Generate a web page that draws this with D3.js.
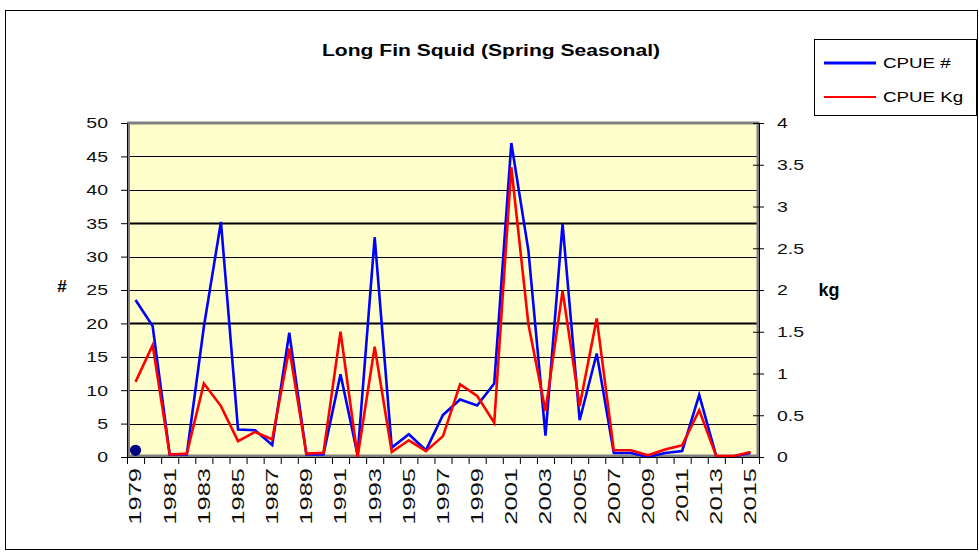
<!DOCTYPE html>
<html>
<head>
<meta charset="utf-8">
<script src="https://cdn.jsdelivr.net/npm/d3@7"></script>
<style>
  html, body { margin: 0; padding: 0; background: #fff; }
  svg { display: block; font-family: Arial, "Liberation Sans", sans-serif; }
</style>
</head>
<body>
<svg id="chart"></svg>
<script>
// data
const years = [1979, 1980, 1981, 1982, 1983, 1984, 1985, 1986, 1987, 1988,
  1989, 1990, 1991, 1992, 1993, 1994, 1995, 1996, 1997, 1998,
  1999, 2000, 2001, 2002, 2003, 2004, 2005, 2006, 2007, 2008,
  2009, 2010, 2011, 2012, 2013, 2014, 2015];

const cpueNum = [23.5, 19.6, 0.4, 0.4, 19.5, 35.2, 4.1, 4.0, 1.8, 18.6,
  0.4, 0.4, 12.4, 0.3, 32.9, 1.4, 3.4, 1.0, 6.3, 8.6,
  7.7, 11.0, 47.0, 30.9, 3.2, 34.9, 5.5, 15.5, 0.6, 0.6,
  0.0, 0.6, 0.9, 9.3, 0.1, 0.1, 0.6];

const cpueKg = [0.90, 1.34, 0.03, 0.04, 0.88, 0.61, 0.19, 0.30, 0.21, 1.30,
  0.04, 0.05, 1.50, 0.00, 1.32, 0.06, 0.20, 0.07, 0.25, 0.87,
  0.73, 0.41, 3.47, 1.59, 0.55, 1.99, 0.61, 1.66, 0.08, 0.08,
  0.02, 0.09, 0.14, 0.56, 0.01, 0.01, 0.06];

// lone marker sitting at 1979
const markerYears = [1979];
const markerValues = [1.0];

const leftTicks = [0, 5, 10, 15, 20, 25, 30, 35, 40, 45, 50];
const rightTicks = [0, 0.5, 1, 1.5, 2, 2.5, 3, 3.5, 4];
const yearLabels = years.filter((d, i) => i % 2 === 0);

const width = 979;
const height = 552;
const plot = { left: 127, right: 759, top: 123, bottom: 457 };
const stretch = 1.3; // reference text is drawn wide

const svg = d3.select("#chart").attr("width", width).attr("height", height);

// outer chart border
svg.append("rect")
  .attr("x", 5.5).attr("y", 10.5)
  .attr("width", 972).attr("height", 539)
  .attr("fill", "#fff").attr("stroke", "#000").attr("stroke-width", 1);

const x = d3.scaleBand().domain(years).range([plot.left, plot.right]).padding(0);
const xEdge = d3.scaleLinear().domain([0, years.length]).range([plot.left, plot.right]);
const yL = d3.scaleLinear().domain([0, 50]).range([plot.bottom, plot.top]);
const yR = d3.scaleLinear().domain([0, 4]).range([plot.bottom, plot.top]);
const cx = d => x(d) + x.bandwidth() / 2;

// plot area
svg.append("rect")
  .attr("x", plot.left).attr("y", plot.top)
  .attr("width", plot.right - plot.left).attr("height", plot.bottom - plot.top)
  .attr("fill", "#ffffcc");

// gridlines
svg.append("g")
  .selectAll("line")
  .data(leftTicks.filter(d => d > 0 && d < 50))
  .enter()
  .append("line")
  .attr("x1", plot.left).attr("x2", plot.right)
  .attr("y1", d => Math.round(yL(d)) + 0.5).attr("y2", d => Math.round(yL(d)) + 0.5)
  .attr("stroke", "#000")
  .attr("stroke-width", d => (d === 20 || d === 35) ? 2 : 1);

// grey plot frame
svg.append("rect")
  .attr("x", plot.left + 1.5).attr("y", plot.top)
  .attr("width", plot.right - plot.left - 2.5).attr("height", plot.bottom - plot.top - 1)
  .attr("fill", "none").attr("stroke", "#808080").attr("stroke-width", 3);

// series
const lineNum = d3.line().x((d, i) => cx(years[i])).y(d => yL(d));
const lineKg = d3.line().x((d, i) => cx(years[i])).y(d => yR(d));

svg.append("path")
  .datum(cpueNum)
  .attr("d", lineNum)
  .attr("fill", "none").attr("stroke", "#0000ff").attr("stroke-width", 2.6)
  .attr("stroke-linejoin", "miter");

svg.append("path")
  .datum(cpueKg)
  .attr("d", lineKg)
  .attr("fill", "none").attr("stroke", "#ff0000").attr("stroke-width", 2.6)
  .attr("stroke-linejoin", "miter");

svg.append("g")
  .selectAll("path")
  .data(markerValues)
  .enter()
  .append("path")
  .attr("transform", (d, i) => `translate(${cx(markerYears[i])},${yL(d)})`)
  .attr("d", d3.symbol().type(d3.symbolCircle).size(100))
  .attr("fill", "#000080");

// axes
const leftAxis = svg.append("g")
  .attr("transform", `translate(${plot.left},0)`)
  .call(d3.axisLeft(yL).tickValues(leftTicks).tickSize(6).tickSizeOuter(0));
leftAxis.select(".domain").attr("stroke", "#000");
leftAxis.selectAll("text")
  .attr("font-size", 15)
  .attr("fill", "#111")
  .attr("x", -19 / stretch)
  .attr("transform", `scale(${stretch},1)`);

const rightAxis = svg.append("g")
  .attr("transform", `translate(${plot.right},0)`)
  .call(d3.axisRight(yR).tickValues(rightTicks).tickFormat(d => String(d)).tickSize(5).tickSizeOuter(0));
rightAxis.selectAll(".tick line").attr("x1", -6);
rightAxis.selectAll("text")
  .attr("font-size", 15)
  .attr("fill", "#111")
  .attr("x", 18 / stretch)
  .attr("transform", `scale(${stretch},1)`);

const bottomTicks = svg.append("g")
  .attr("transform", `translate(0,${plot.bottom})`)
  .call(d3.axisBottom(xEdge).tickValues(d3.range(years.length + 1)).tickFormat("").tickSize(7).tickSizeOuter(0));
bottomTicks.select(".domain").attr("stroke", "#000");

const bottomLabels = svg.append("g")
  .attr("transform", `translate(0,${plot.bottom})`)
  .call(d3.axisBottom(x).tickValues(yearLabels).tickSize(0));
bottomLabels.select(".domain").remove();
bottomLabels.selectAll("text")
  .attr("font-size", 17)
  .attr("fill", "#111")
  .attr("text-anchor", "end")
  .attr("dy", "0.35em")
  .attr("y", 0)
  .attr("x", 0)
  .attr("transform", "translate(0,11) rotate(-90) scale(1.5,1)");

// titles
svg.append("text")
  .attr("x", 491).attr("y", 56)
  .attr("text-anchor", "middle")
  .attr("font-size", 17).attr("font-weight", "bold")
  .attr("transform", "translate(491,0) scale(1.24,1) translate(-491,0)")
  .text("Long Fin Squid (Spring Seasonal)");

svg.append("text")
  .attr("x", 62).attr("y", 292)
  .attr("text-anchor", "middle")
  .attr("font-size", 17).attr("font-weight", "bold")
  .text("#");

svg.append("text")
  .attr("x", 829).attr("y", 296)
  .attr("text-anchor", "middle")
  .attr("font-size", 18).attr("font-weight", "bold")
  .text("kg");

// legend
const legend = svg.append("g");
legend.append("rect")
  .attr("x", 814.5).attr("y", 39.5)
  .attr("width", 162).attr("height", 76)
  .attr("fill", "#fff").attr("stroke", "#000").attr("stroke-width", 1);

const legendItems = [
  { name: "CPUE #", color: "#0000ff", w: 3, y: 63 },
  { name: "CPUE Kg", color: "#ff0000", w: 2, y: 97 }
];
legendItems.forEach(d => {
  legend.append("line")
    .attr("x1", 824).attr("x2", 876)
    .attr("y1", d.y).attr("y2", d.y)
    .attr("stroke", d.color).attr("stroke-width", d.w);
  legend.append("text")
    .attr("x", 883 / 1.25).attr("y", d.y + 5.5)
    .attr("font-size", 15)
    .attr("transform", "scale(1.25,1)")
    .text(d.name);
});
</script>
</body>
</html>
